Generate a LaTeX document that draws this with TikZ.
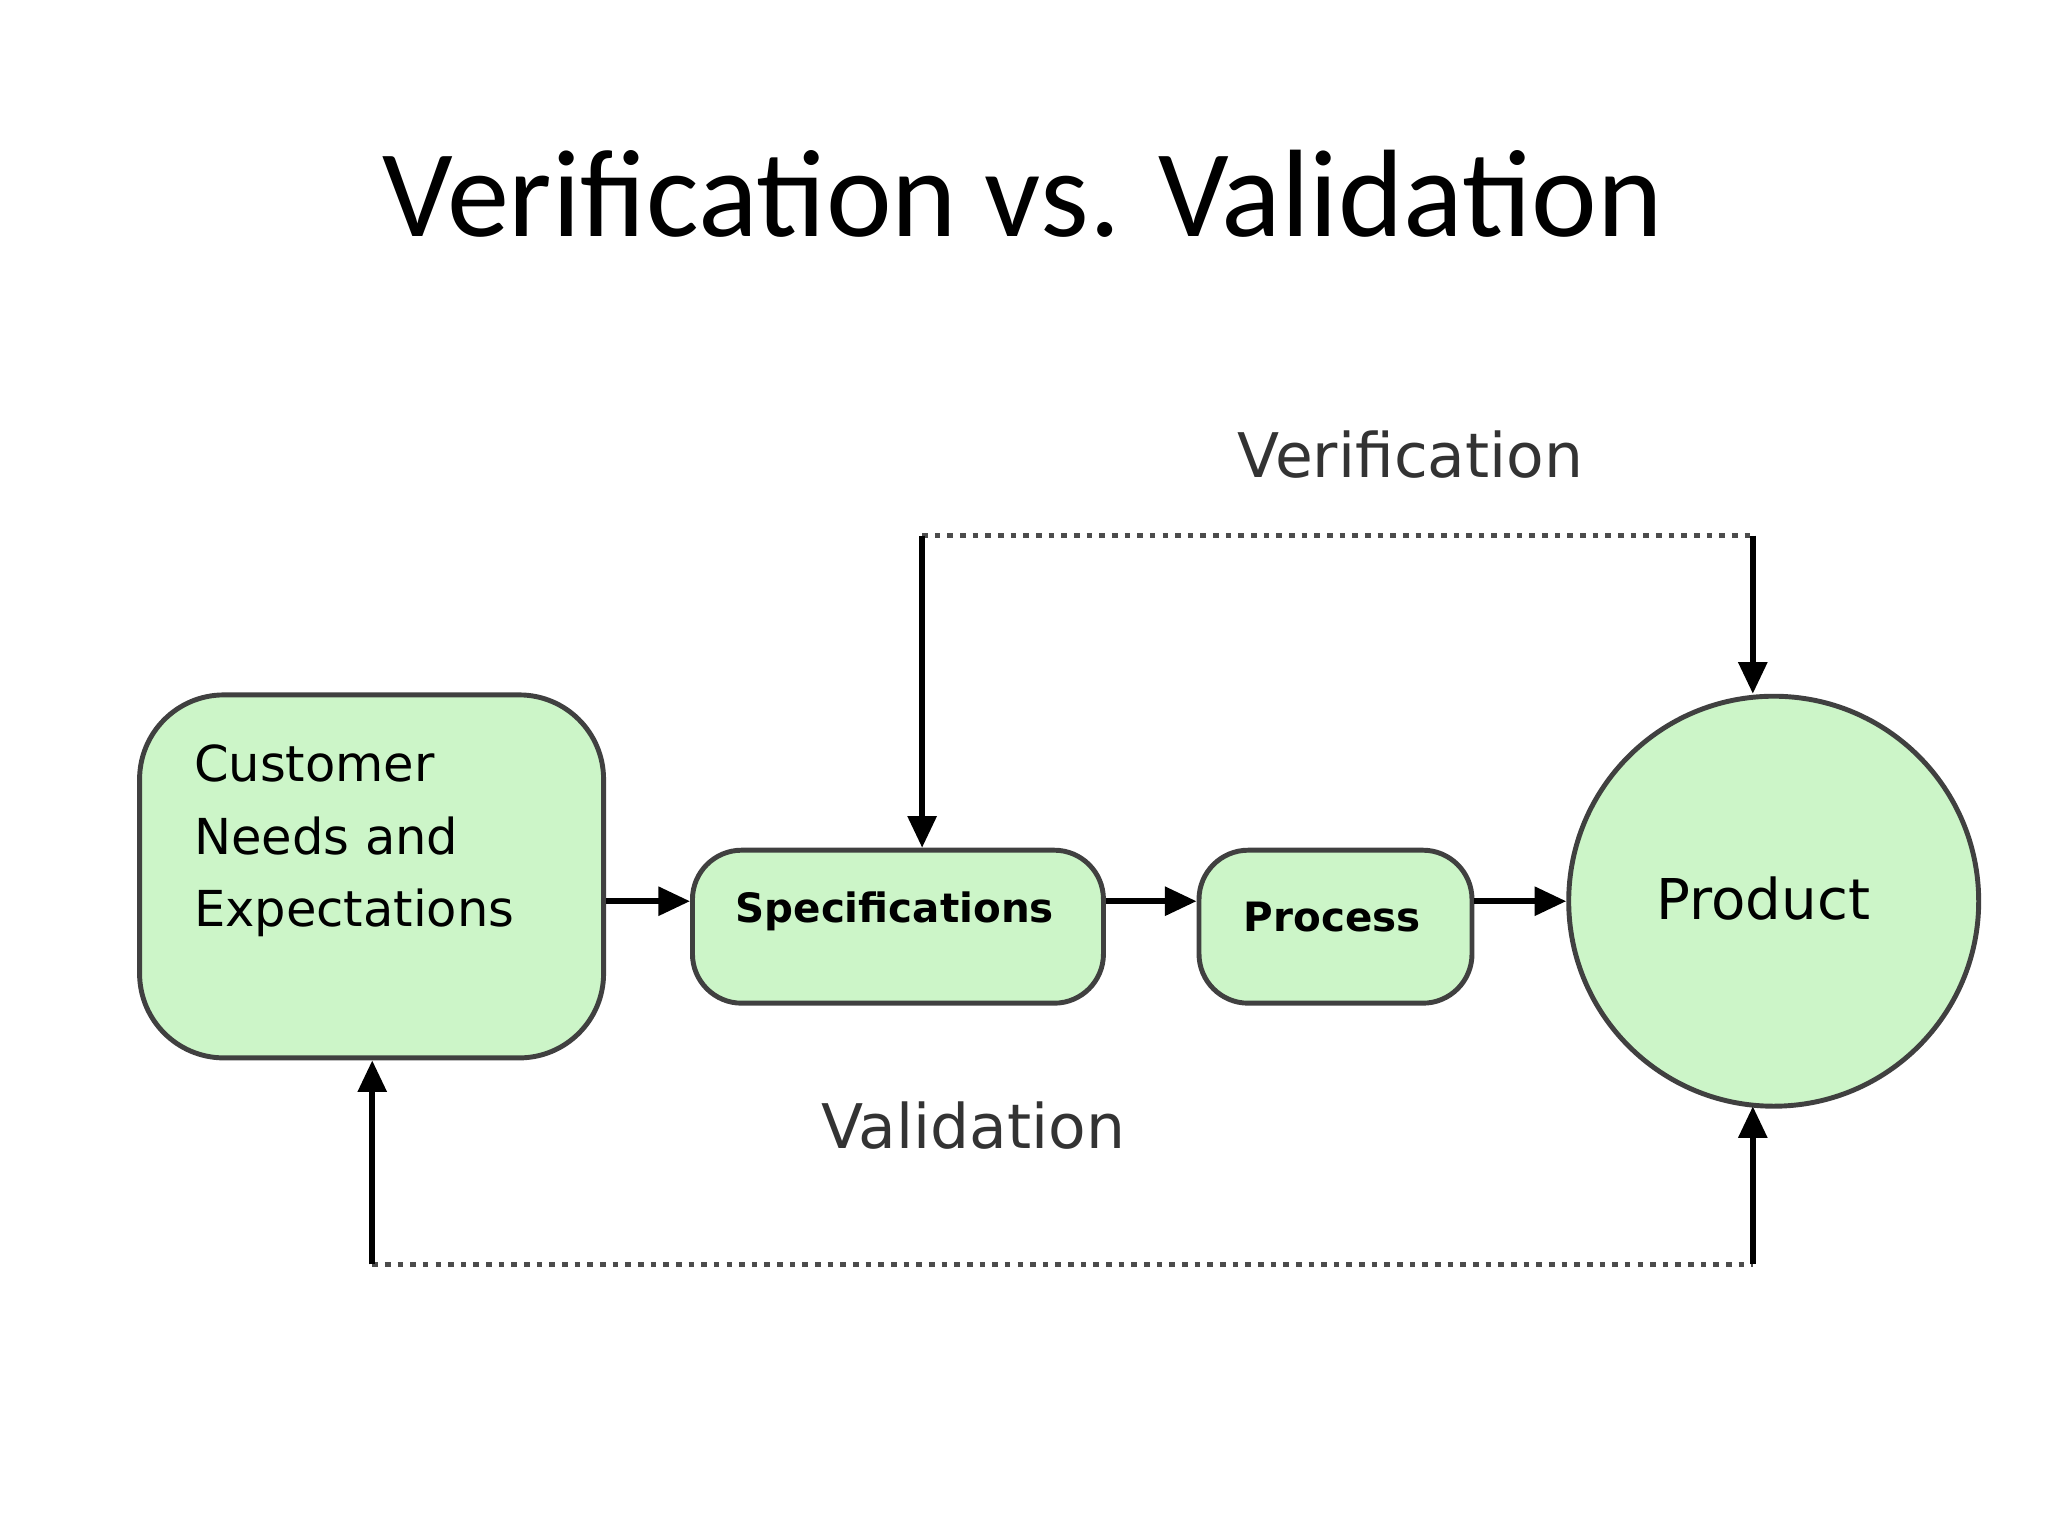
\documentclass[tikz,border=0pt]{standalone}
\usepackage{fontspec}
\setmainfont{Carlito}
\newfontfamily\vfont{DejaVu Sans}
\usetikzlibrary{arrows.meta}
\begin{document}
\begin{tikzpicture}[x=0.01306cm,y=-0.01306cm,
  box/.style={draw=black!75,line width=1.4pt,fill={rgb,255:red,204;green,245;blue,200},rounded corners=14pt},
  arr/.style={line width=1.6pt,-{Triangle[length=9pt,width=8pt]}},
  dot/.style={line width=1.6pt,dotted,black!70},
  lbl/.style={font=\vfont\fontsize{17.5}{21}\selectfont,text=black!80}]
\useasboundingbox (0,0) rectangle (1568,1176);
\node (title) at (783,148) {\fontsize{35.4}{42}\selectfont Verification vs. Validation};
\node[box,minimum width=4.64cm,minimum height=3.63cm,rounded corners=24pt] (cust) at (284.5,671) {};
\node[anchor=north west,align=left,font=\vfont\fontsize{14.1}{20.5}\selectfont,inner sep=0pt] (custt) at (148,570) {Customer\\Needs and\\Expectations};
\node[box,minimum width=4.11cm,minimum height=1.53cm,font=\vfont\bfseries\fontsize{11.5}{14}\selectfont] (spec) at (687.5,709.5) {};
\node[font=\vfont\bfseries\fontsize{11.5}{14}\selectfont] (spect) at (685,698) {Specifications};
\node[box,minimum width=2.73cm,minimum height=1.53cm] (proc) at (1022.5,709.5) {};
\node[font=\vfont\bfseries\fontsize{11.5}{14}\selectfont] (proct) at (1020,702) {Process};
\node[circle,draw=black!75,line width=1.4pt,fill={rgb,255:red,204;green,245;blue,200},minimum size=4.10cm] (prod) at (1358,690) {};
\node[font=\vfont\fontsize{16}{19}\selectfont] (prodt) at (1350,688) {Product};
\node[lbl] (ver) at (1080,348) {Verification};
\node[lbl] (val) at (745,862) {Validation};
\coordinate (v1) at (706,410);
\coordinate (v2) at (1342,410);
\coordinate (w1) at (285,968);
\coordinate (w2) at (1342,968);
\draw[dot] (v1) -- (v2);
\draw[dot] (w1) -- (w2);
\draw[arr] (v1) -- (v1 |- spec.north);
\draw[arr] (v2) -- (v2 |- prod.north);
\draw[arr] (w1) -- (w1 |- cust.south);
\draw[arr] (w2) -- (1342,847);
\draw[arr] (cust.east |- 0,690) -- (spec.west |- 0,690);
\draw[arr] (spec.east |- 0,690) -- (proc.west |- 0,690);
\draw[arr] (proc.east |- 0,690) -- (prod.west |- 0,690);
\end{tikzpicture}
\end{document}
